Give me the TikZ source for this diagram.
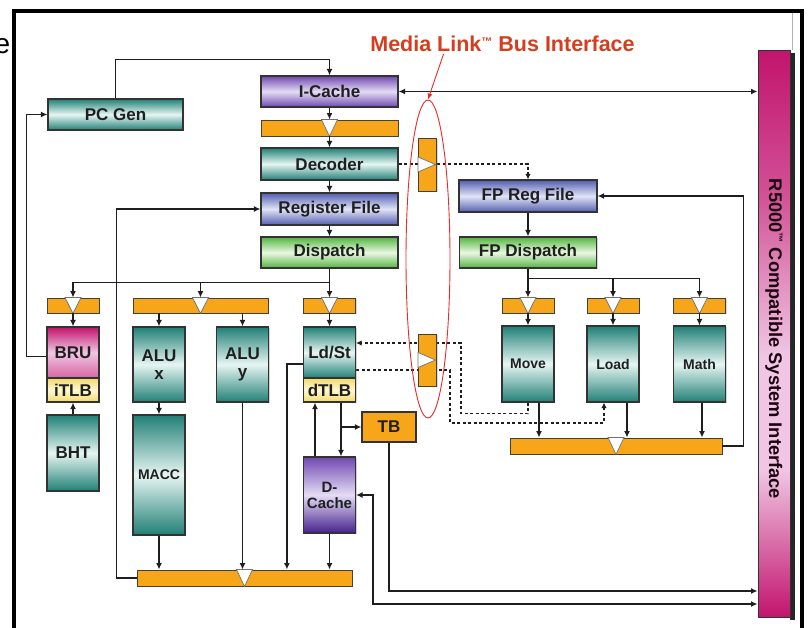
\documentclass[tikz,border=0pt]{standalone}
\usepackage{fontspec}
\setmainfont{Liberation Sans}
\usetikzlibrary{arrows.meta,shapes.geometric,shadows,calc}
\pgfdeclarelayer{bg}
\pgfsetlayers{bg,main}
\definecolor{tealc}{RGB}{32,128,118}
\definecolor{teall}{RGB}{230,245,242}
\definecolor{purc}{RGB}{112,72,176}
\definecolor{purl}{RGB}{228,220,245}
\definecolor{bluec}{RGB}{84,94,176}
\definecolor{bluel}{RGB}{224,228,246}
\definecolor{grnc}{RGB}{82,180,64}
\definecolor{grnl}{RGB}{234,248,226}
\definecolor{orc}{RGB}{246,166,24}
\definecolor{magc}{RGB}{194,20,108}
\definecolor{magl}{RGB}{240,198,228}
\definecolor{yelc}{RGB}{242,216,104}
\definecolor{yell}{RGB}{255,249,212}
\definecolor{dpur}{RGB}{68,32,140}
\definecolor{titred}{RGB}{212,62,30}
\definecolor{elr}{RGB}{236,40,40}
\definecolor{linec}{RGB}{30,30,30}
\pgfdeclareverticalshading{sysshade}{100bp}{color(0bp)=(magc); color(25bp)=(magc); color(38bp)=(magl); color(48bp)=(magl); color(62bp)=(magc!65!magl); color(75bp)=(magc); color(100bp)=(magc)}
\newcommand\mytridn[1]{\filldraw[fill=white,draw=black!55,line width=0.7pt] ([xshift=-8pt]#1.north) -- ([xshift=8pt]#1.north) -- (#1.south) -- cycle;}
\newcommand\mytrirt[1]{\filldraw[fill=white,draw=black!55,line width=0.7pt] ([yshift=7.5pt]#1.west) -- ([yshift=-7.5pt]#1.west) -- ([xshift=-1.5pt]#1.east) -- cycle;}
\begin{document}
\begin{tikzpicture}[x=1pt,y=-1pt,
  sz/.style 2 args={minimum width=#1pt, minimum height=#2pt},
  blk/.style={draw=black!80, line width=1.2pt, inner sep=0pt, align=center, text=black!88,
    font=\fontsize{17}{18}\selectfont\bfseries,
    drop shadow={shadow xshift=1.3pt, shadow yshift=-1.3pt, opacity=0.35}},
  smallf/.style={font=\fontsize{14}{15}\selectfont\bfseries},
  tealbox/.style={blk, top color=tealc, bottom color=tealc, middle color=teall},
  purbox/.style={blk, top color=purc, bottom color=purc, middle color=purl},
  bluebox/.style={blk, top color=bluec, bottom color=bluec, middle color=bluel},
  grnbox/.style={blk, top color=grnc, bottom color=grnc, middle color=grnl},
  magbox/.style={blk, top color=magc, bottom color=magc!55!magl, middle color=magl},
  yelbox/.style={blk, top color=yelc, bottom color=yelc, middle color=yell},
  dcbox/.style={blk, top color=purc, bottom color=dpur, middle color=purl},
  buf/.style={draw=black!75, line width=0.9pt, fill=orc, inner sep=0pt,
    drop shadow={shadow xshift=1.2pt, shadow yshift=-1.2pt, opacity=0.3}},
  ln/.style={draw=linec, line width=1.6pt},
  arr/.style={ln, -{Latex[length=6.5pt,width=6pt]}},
  arr2/.style={ln, {Latex[length=6.5pt,width=6pt]}-{Latex[length=6.5pt,width=6pt]}},
  dsh/.style={draw=linec, line width=1.5pt, dash pattern=on 3pt off 2.5pt},
  arrs/.style={-{Latex[length=5.5pt,width=5.5pt]}}
]
\useasboundingbox (0,0) rectangle (809,627);
\clip (0,0) rectangle (809,627);

% frame
\draw[line width=4pt, line join=miter] (14,700) -- (14,11) -- (802,11) -- (802,700);
\draw[black!30, line width=1pt] (792,13) -- (792,50);
\node[anchor=east, font=\fontsize{28}{28}\selectfont, inner sep=0pt] (etext) at (10.5,46.5) {e};

% system interface bar
\fill[black!85] (790,53) rectangle (795,620);
\node[draw=black!80, line width=1pt, shading=sysshade, sz={32}{567}, inner sep=0pt] (sysif) at (774,333.5) {};
\node[rotate=-90, font=\fontsize{18.3}{19}\selectfont\bfseries, text=black!85!magc, inner sep=0pt] (systext) at (774,339)
  {R5000\raisebox{6.5pt}{\fontsize{10}{10}\selectfont ™} Compatible System Interface};

% integer pipeline
\node[tealbox, sz={135}{31}] (pcgen) at (115.5,114.5) {PC Gen};
\node[purbox, sz={137}{31}] (icache) at (329.5,91.5) {I-Cache};
\node[buf, sz={137}{16}] (ibuf) at (329.5,128) {};
\node[tealbox, sz={137}{32}] (decoder) at (329.5,164) {Decoder};
\node[bluebox, sz={137}{32}] (regfile) at (329.5,209) {Register File};
\node[grnbox, sz={137}{31}] (dispatch) at (329.5,252.5) {Dispatch};

\node[buf, sz={52}{15}] (brubuf) at (73,305.5) {};
\node[buf, sz={135}{15}] (alubuf) at (200.5,305.5) {};
\node[buf, sz={52}{15}] (ldbuf) at (329.5,305.5) {};

\node[magbox, sz={52}{51}] (bru) at (73,352.5) {BRU};
\node[yelbox, sz={52}{24}] (itlb) at (73,390) {iTLB};
\node[tealbox, sz={52}{75}] (alux) at (159,364.5) {ALU\\x};
\node[tealbox, sz={52}{75}] (aluy) at (242.5,364.5) {ALU\\y};
\node[tealbox, sz={52}{51}] (ldst) at (329.5,352.5) {Ld/St};
\node[yelbox, sz={52}{24}] (dtlb) at (329.5,390) {dTLB};
\node[tealbox, sz={52}{76}] (bht) at (73,453) {BHT};
\node[tealbox, smallf, sz={52}{120}] (macc) at (159,475) {MACC};
\node[blk, fill=orc, sz={54}{30}] (tb) at (389,427) {TB};
\node[dcbox, font=\fontsize{15}{16}\selectfont\bfseries, sz={52}{76}] (dcache) at (329.5,495) {D-\\Cache};
\node[buf, sz={215}{16}] (intbus) at (244.5,578) {};

% media link buffers
\node[buf, sz={18}{53}] (vbuf1) at (427.5,164.5) {};
\node[buf, sz={18}{52}] (vbuf2) at (427.5,360) {};

% FP pipeline
\node[bluebox, sz={138}{32}] (fpreg) at (528,196) {FP Reg File};
\node[grnbox, sz={137}{31}] (fpdisp) at (528,252.5) {FP Dispatch};
\node[buf, sz={52}{15}] (movebuf) at (528,305.5) {};
\node[buf, sz={52}{15}] (loadbuf) at (613,305.5) {};
\node[buf, sz={52}{15}] (mathbuf) at (699.5,305.5) {};
\node[tealbox, smallf, sz={52}{76}] (move) at (528,364) {Move};
\node[tealbox, smallf, sz={52}{76}] (load) at (613,364) {Load};
\node[tealbox, smallf, sz={52}{76}] (math) at (699.5,364) {Math};
\node[buf, sz={212}{16}] (fpbus) at (616,446) {};

% buffer triangles
\mytridn{ibuf}\mytridn{brubuf}\mytridn{alubuf}\mytridn{ldbuf}\mytridn{intbus}
\mytridn{movebuf}\mytridn{loadbuf}\mytridn{mathbuf}\mytridn{fpbus}
\mytrirt{vbuf1}\mytrirt{vbuf2}

% integer connectors
\draw[arr] (pcgen.north) -- ++(0,-39) -| (icache.north);
\draw[arr] ([yshift=-4pt]bru.west) -- ++(-20,0) |- (pcgen.west);
\draw[arr2] (icache.east) -- (icache.east -| sysif.west);
\draw[arr] (icache.south) -- (ibuf.north);
\draw[arr] (ibuf.south) -- (decoder.north);
\draw[arr] (decoder.south) -- (regfile.north);
\draw[arr] (regfile.south) -- (dispatch.north);
\draw[ln] (dispatch.south) -- ++(0,14) coordinate (dsplit);
\draw[arr] (dsplit) -| (brubuf.north);
\draw[arr] (dsplit -| alubuf.north) -- (alubuf.north);
\draw[arr] (dsplit) -- (ldbuf.north);
\draw[arr] (brubuf.south) -- (bru.north);
\draw[arr] (alux.north |- alubuf.south) -- (alux.north);
\draw[arr] (aluy.north |- alubuf.south) -- (aluy.north);
\draw[arr] (ldbuf.south) -- (ldst.north);
\draw[arr] (bht.north) -- (itlb.south);
\draw[arr] (alux.south) -- (macc.north);
\draw[arr] (macc.south) -- (macc.south |- intbus.north);
\draw[arr] (aluy.south) -- (aluy.south |- intbus.north);
\coordinate (ldl) at ([xshift=-16pt,yshift=-11.5pt]ldst.west);
\draw[arr] ([yshift=-11.5pt]ldst.west) -- (ldl) -- (ldl |- intbus.north);
\draw[arr] (dcache.south) -- (dcache.south |- intbus.north);
\draw[arr] (intbus.west) -- ++(-20,0) |- (regfile.west);
\coordinate (dtl) at ([xshift=-14.5pt]dcache.north);
\coordinate (dtr) at ([xshift=11.5pt]dtlb.south);
\draw[arr] (dtl) -- (dtl |- dtlb.south);
\draw[arr] (dtr) -- (dtr |- dcache.north);
\draw[arr] (dtr |- tb.west) -- (tb.west);
\draw[arr] (tb.south) |- (sysif.west |- 0,591);
\draw[arr2] (dcache.east) -| (373,604) -- (sysif.west |- 0,604);

% FP connectors
\draw[arr] (fpreg.south) -- (fpdisp.north);
\draw[ln] (fpdisp.south) -- ++(0,10) coordinate (fsplit);
\draw[arr] (fsplit) -- (movebuf.north);
\draw[arr] (fsplit) -| (loadbuf.north);
\draw[arr] (fsplit) -| (mathbuf.north);
\draw[arr] (movebuf.south) -- (move.north);
\draw[arr] (loadbuf.south) -- (load.north);
\draw[arr] (mathbuf.south) -- (math.north);
\coordinate (mv) at ([xshift=11pt]move.south);
\coordinate (ld) at ([xshift=14pt]load.south);
\coordinate (mt) at ([xshift=2.5pt]math.south);
\draw[arr] (mv) -- (mv |- fpbus.north);
\draw[arr] (ld) -- (ld |- fpbus.north);
\draw[arr] (mt) -- (mt |- fpbus.north);
\draw[arr] (fpbus.east) -- ++(21,0) |- (fpreg.east);

% media link dashed paths
\begin{pgfonlayer}{bg}
\draw[dsh, arrs] (decoder.east) -| (fpreg.north);
\draw[dsh, arrs] (move.south) -- ++(0,11) -| (461,343) -- (ldst.east |- 0,343);
\coordinate (lq) at ([xshift=-9pt]load.south);
\draw[dsh, arrs] (ldst.east |- 0,370) -- (450,370) -- (450,423) -| (lq);
\end{pgfonlayer}

% title and ellipse
\node[font=\fontsize{21.5}{22}\selectfont\bfseries, text=titred, inner sep=0pt] (title) at (502.5,44)
  {Media Link\raisebox{6.5pt}{\fontsize{11}{11}\selectfont ™} Bus Interface};
\node[ellipse, draw=elr, line width=0.9pt, sz={44}{318}, inner sep=0pt] (ml) at (428,259) {};
\draw[elr, line width=0.9pt, -{Latex[length=6pt,width=5pt]}] ([xshift=-59pt,yshift=-2pt]title.south) -- (ml.north);
\end{tikzpicture}
\end{document}
